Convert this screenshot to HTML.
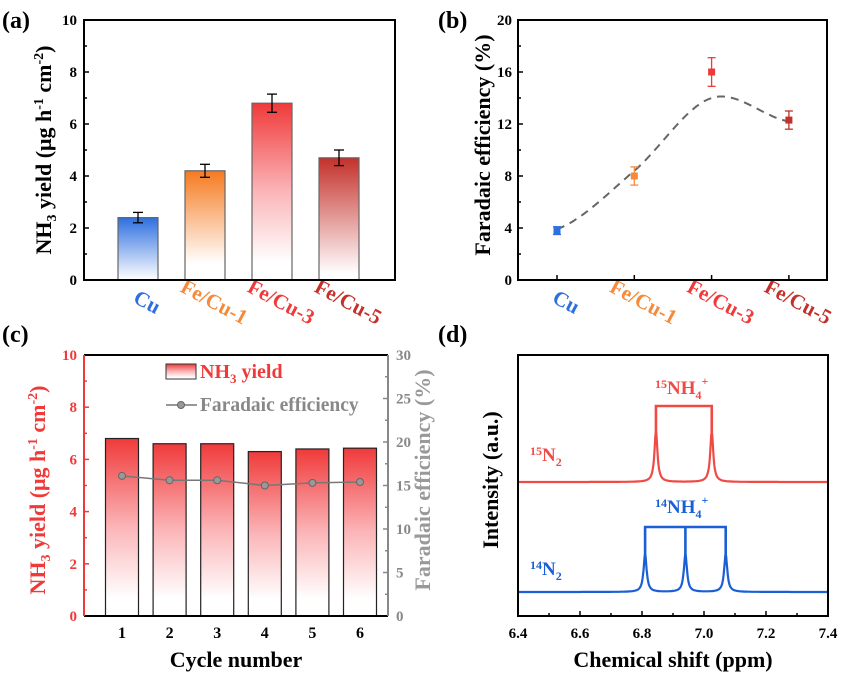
<!DOCTYPE html>
<html><head><meta charset="utf-8"><style>
body{margin:0;background:#fff}
svg{font-family:"Liberation Serif",serif;font-weight:bold}
</style></head><body>
<svg id="s" width="844" height="673" viewBox="0 0 844 673">
<defs>
<linearGradient id="gBlue" x1="0" y1="0" x2="0" y2="1"><stop offset="0" stop-color="#2e6fe0"/><stop offset="1" stop-color="#fff"/></linearGradient>
<linearGradient id="gOrange" x1="0" y1="0" x2="0" y2="1"><stop offset="0" stop-color="#f57a20"/><stop offset="0.85" stop-color="#fff"/></linearGradient>
<linearGradient id="gRed" x1="0" y1="0" x2="0" y2="1"><stop offset="0" stop-color="#f03a3a"/><stop offset="0.5" stop-color="#fbb5b8"/><stop offset="0.9" stop-color="#fff"/></linearGradient>
<linearGradient id="gDark" x1="0" y1="0" x2="0" y2="1"><stop offset="0" stop-color="#c4302a"/><stop offset="0.95" stop-color="#fff"/></linearGradient>
</defs>
<g id="pa"></g>
<g id="pb"></g>
<g id="pc"></g>
<g id="pd"></g>
</svg>
<script>
const catsA=["Cu","Fe/Cu-1","Fe/Cu-3","Fe/Cu-5"];
const yieldA=[2.4,4.2,6.8,4.7];
const errA=[0.2,0.25,0.35,0.3];
const feB=[3.8,8.0,16.0,12.3];
const errB=[0.3,0.7,1.1,0.7];
const fitB=[3.9,8.4,14.0,12.2];
const cycles=["1","2","3","4","5","6"];
const yieldC=[6.8,6.6,6.6,6.3,6.4,6.43];
const feC=[16.1,15.6,15.6,15.0,15.3,15.4];
const peaks15=[6.845,7.025];
const peaks14=[6.81,6.94,7.07];
const catColors=["#2e6fe0","#f58a3a","#f03a3a","#c4302a"];
const grads=["url(#gBlue)","url(#gOrange)","url(#gRed)","url(#gDark)"];
const NS="http://www.w3.org/2000/svg";
function el(p,t,a,txt){const e=document.createElementNS(NS,t);for(const k in a)e.setAttribute(k,a[k]);if(txt!==undefined)e.textContent=txt;p.appendChild(e);return e;}
function lab(p,x,y,t,sz,fill,anchor,name){const e=el(p,"text",{x:x,y:y,"font-size":sz,fill:fill||"#000","text-anchor":anchor||"middle"},t);return e;}

// Panel a
(function(){
const g=document.getElementById("pa");
const X0=84,X1=395,Y0=280,Y1=20;
const y=v=>Y0-(v/10)*(Y0-Y1);
const xc=i=>138+i*67;
lab(g,2,28,"(a)",24,"#000","start","panel-a-label");
for(let v=0;v<=10;v+=2){lab(g,X0-7,y(v)+5,String(v),15,"#000","end","y-tick-label");}
for(let v=0;v<=10;v+=1){el(g,"line",{x1:X0,x2:X0+(v%2?3:5),y1:y(v),y2:y(v),stroke:"#000","stroke-width":1.5});}
yieldA.forEach((v,i)=>{
 const r=el(g,"rect",{x:xc(i)-20,y:y(v),width:40,height:Y0-y(v),fill:grads[i],stroke:"#666","stroke-width":1.2});
 
 
 const e=errA[i];
 el(g,"line",{x1:xc(i),x2:xc(i),y1:y(v+e),y2:y(v-e),stroke:"#000","stroke-width":1.3});
 el(g,"line",{x1:xc(i)-5,x2:xc(i)+5,y1:y(v+e),y2:y(v+e),stroke:"#000","stroke-width":1.3});
 el(g,"line",{x1:xc(i)-5,x2:xc(i)+5,y1:y(v-e),y2:y(v-e),stroke:"#000","stroke-width":1.3});
 const t=lab(g,0,0,catsA[i],21,catColors[i],"middle","x-category-label");
 t.setAttribute("transform",`translate(${xc(i)+6},${308}) rotate(28)`);
});
el(g,"rect",{x:X0,y:Y1,width:X1-X0,height:Y0-Y1,fill:"none",stroke:"#000","stroke-width":2});
const t=el(g,"text",{"font-size":22,"text-anchor":"middle",transform:`translate(51,150) rotate(-90)`});

t.innerHTML='NH<tspan font-size="14" dy="5">3</tspan><tspan dy="-5"> yield (μg h</tspan><tspan font-size="14" dy="-8">-1</tspan><tspan dy="8"> cm</tspan><tspan font-size="14" dy="-8">-2</tspan><tspan dy="8">)</tspan>';
})();

// Panel b
(function(){
const g=document.getElementById("pb");
const X0=518,X1=827,Y0=280,Y1=20;
const y=v=>Y0-(v/20)*(Y0-Y1);
const xc=i=>557+i*77.3;
lab(g,438,28,"(b)",24,"#000","start","panel-b-label");
for(let v=0;v<=20;v+=4){lab(g,X0-6,y(v)+5,String(v),15,"#000","end","y-tick-label");}
for(let v=0;v<=20;v+=2){el(g,"line",{x1:X0,x2:X0+(v%4?3:5),y1:y(v),y2:y(v),stroke:"#000","stroke-width":1.5});}
for(let i=0;i<4;i++){el(g,"line",{x1:xc(i),x2:xc(i),y1:Y0,y2:Y0-5,stroke:"#000","stroke-width":1.5});}
let d="";const N=60;
for(let k=0;k<=N;k++){const s=k/N*3;const i=Math.min(2,Math.floor(s));const f=s-i;
 const p0=fitB[Math.max(0,i-1)],p1=fitB[i],p2=fitB[i+1],p3=fitB[Math.min(3,i+2)];
 const v=0.5*((2*p1)+(-p0+p2)*f+(2*p0-5*p1+4*p2-p3)*f*f+(-p0+3*p1-3*p2+p3)*f*f*f);
 d+=(k?"L":"M")+(557+s*77.3).toFixed(1)+","+y(v).toFixed(1);}
const c=el(g,"path",{d:d,fill:"none",stroke:"#666","stroke-width":2,"stroke-dasharray":"8,6"});

feB.forEach((v,i)=>{
 const e=errB[i],col=catColors[i];
 el(g,"line",{x1:xc(i),x2:xc(i),y1:y(v+e),y2:y(v-e),stroke:col,"stroke-width":1.3});
 el(g,"line",{x1:xc(i)-4,x2:xc(i)+4,y1:y(v+e),y2:y(v+e),stroke:col,"stroke-width":1.3});
 el(g,"line",{x1:xc(i)-4,x2:xc(i)+4,y1:y(v-e),y2:y(v-e),stroke:col,"stroke-width":1.3});
 const m=el(g,"rect",{x:xc(i)-3.5,y:y(v)-3.5,width:7,height:7,fill:col});
 
 const t=lab(g,0,0,catsA[i],21,catColors[i],"middle","x-category-label");
 t.setAttribute("transform",`translate(${xc(i)+6},${308}) rotate(28)`);
});
el(g,"rect",{x:X0,y:Y1,width:X1-X0,height:Y0-Y1,fill:"none",stroke:"#000","stroke-width":2});
const t=lab(g,0,0,"Faradaic efficiency (%)",22,"#000","middle","y-axis-title");
t.setAttribute("transform","translate(490,145) rotate(-90)");
})();

// Panel c
(function(){
const g=document.getElementById("pc");
const X0=84,X1=388,Y0=616,Y1=355;
const y=v=>Y0-(v/10)*(Y0-Y1);
const yr=v=>Y0-(v/30)*(Y0-Y1);
const xc=i=>122+i*47.6;
lab(g,2,342,"(c)",24,"#000","start","panel-c-label");
for(let v=0;v<=10;v+=2){lab(g,X0-7,y(v)+5,String(v),15,"#f03a3a","end","y-left-tick-label");}
for(let v=0;v<=30;v+=5){lab(g,X1+8,yr(v)+5,String(v),15,"#888","start","y-right-tick-label");}
yieldC.forEach((v,i)=>{
 const r=el(g,"rect",{x:xc(i)-16.5,y:y(v),width:33,height:Y0-y(v),fill:"url(#gRed)",stroke:"#222","stroke-width":1.2});
 
 lab(g,xc(i),Y0+22,cycles[i],16,"#000","middle","x-tick-label");
});
const ln=el(g,"polyline",{points:feC.map((v,i)=>xc(i)+","+yr(v)).join(" "),fill:"none",stroke:"#777","stroke-width":1.5});

feC.forEach((v,i)=>{const c=el(g,"circle",{cx:xc(i),cy:yr(v),r:3.5,fill:"#999",stroke:"#666"});});
for(let v=0;v<=10;v+=1){el(g,"line",{x1:X0,x2:X0+(v%2?3:5),y1:y(v),y2:y(v),stroke:"#f03a3a","stroke-width":1.5});}
for(let v=0;v<=30;v+=2.5){el(g,"line",{x1:X1,x2:X1-(v%5?3:5),y1:yr(v),y2:yr(v),stroke:"#888","stroke-width":1.5});}
el(g,"line",{x1:X0,x2:X1,y1:Y1,y2:Y1,stroke:"#000","stroke-width":2});
el(g,"line",{x1:X0,x2:X1,y1:Y0,y2:Y0,stroke:"#000","stroke-width":2});
el(g,"line",{x1:X0,x2:X0,y1:Y1,y2:Y0,stroke:"#f03a3a","stroke-width":2});
el(g,"line",{x1:X1,x2:X1,y1:Y1,y2:Y0,stroke:"#888","stroke-width":2});
const lg=el(g,"rect",{x:166,y:364,width:30,height:15,fill:"url(#gRed)",stroke:"#333","stroke-width":1});

const t1=el(g,"text",{x:200,y:378,"font-size":20,fill:"#f03a3a"});
t1.innerHTML='NH<tspan font-size="13" dy="5">3</tspan><tspan dy="-5"> yield</tspan>';
el(g,"line",{x1:166,x2:197,y1:405,y2:405,stroke:"#777","stroke-width":1.5});
el(g,"circle",{cx:181,cy:405,r:3.5,fill:"#999",stroke:"#666"});
lab(g,200,411,"Faradaic efficiency",19.5,"#888","start","legend-entry-fe");
lab(g,X0+(X1-X0)/2,667,"Cycle number",22,"#000","middle","x-axis-title");
const t=el(g,"text",{"font-size":22,"text-anchor":"middle",fill:"#f03a3a",transform:`translate(45,490) rotate(-90)`});

t.innerHTML='NH<tspan font-size="14" dy="5">3</tspan><tspan dy="-5"> yield (μg h</tspan><tspan font-size="14" dy="-8">-1</tspan><tspan dy="8"> cm</tspan><tspan font-size="14" dy="-8">-2</tspan><tspan dy="8">)</tspan>';
const t2=lab(g,0,0,"Faradaic efficiency (%)",22,"#999","middle","y-right-title");
t2.setAttribute("transform","translate(430,480) rotate(-90)");
})();

// Panel d
(function(){
const g=document.getElementById("pd");
const X0=518,X1=828,Y0=616,Y1=355;
const x=v=>X0+(v-6.4)/(1.0)*(X1-X0);
lab(g,438,342,"(d)",24,"#000","start","panel-d-label");
["6.4","6.6","6.8","7.0","7.2","7.4"].forEach(s=>lab(g,x(+s),Y0+22,s,15,"#000","middle","x-tick-label"));
for(let v=6.4;v<=7.401;v+=0.1){el(g,"line",{x1:x(v),x2:x(v),y1:Y0,y2:Y0-(Math.round(v*10)%2?3:5),stroke:"#000","stroke-width":1.5});}
function spec(peaks,base,h,col,name,top){
 let d="";for(let k=0;k<=600;k++){const v=6.4+k/600;let s=0;peaks.forEach(p=>{const w=0.006;s+=1/(1+((v-p)/w)**2);});
 d+=(k?"L":"M")+x(v).toFixed(1)+","+(base-h*s).toFixed(1);}
 const p=el(g,"path",{d:d,fill:"none",stroke:col,"stroke-width":2.2});
 let b="M"+x(peaks[0])+","+(base-h*0.9)+"L"+x(peaks[0])+","+top+"L"+x(peaks[peaks.length-1])+","+top+"L"+x(peaks[peaks.length-1])+","+(base-h*0.9);
 const br=el(g,"path",{d:b,fill:"none",stroke:col,"stroke-width":2.6});
 peaks.slice(1,-1).forEach(q=>el(g,"line",{x1:x(q),x2:x(q),y1:top,y2:base-h*0.9,stroke:col,"stroke-width":2.6}));
}
spec(peaks15,482,50,"#f04a45","spectrum-15n2",406);
spec(peaks14,592,38,"#1a5fd6","spectrum-14n2",527);
el(g,"rect",{x:X0,y:Y1,width:X1-X0,height:Y0-Y1,fill:"none",stroke:"#000","stroke-width":2});
const a=el(g,"text",{x:655,y:394,"font-size":19,fill:"#f04a45"});
a.innerHTML='<tspan font-size="12" dy="-6">15</tspan><tspan dy="6">NH</tspan><tspan font-size="12" dy="5">4</tspan><tspan font-size="12" dy="-14">+</tspan>';
const b=el(g,"text",{x:655,y:513,"font-size":19,fill:"#1a5fd6"});
b.innerHTML='<tspan font-size="12" dy="-6">14</tspan><tspan dy="6">NH</tspan><tspan font-size="12" dy="5">4</tspan><tspan font-size="12" dy="-14">+</tspan>';
const c=el(g,"text",{x:530,y:461,"font-size":19,fill:"#f04a45"});
c.innerHTML='<tspan font-size="12" dy="-6">15</tspan><tspan dy="6">N</tspan><tspan font-size="12" dy="5">2</tspan>';
const e=el(g,"text",{x:530,y:575,"font-size":19,fill:"#1a5fd6"});
e.innerHTML='<tspan font-size="12" dy="-6">14</tspan><tspan dy="6">N</tspan><tspan font-size="12" dy="5">2</tspan>';
lab(g,673,667,"Chemical shift (ppm)",22,"#000","middle","x-axis-title");
const t=lab(g,0,0,"Intensity (a.u.)",22,"#000","middle","y-axis-title");
t.setAttribute("transform","translate(498,480) rotate(-90)");
})();
</script>
</body></html>
